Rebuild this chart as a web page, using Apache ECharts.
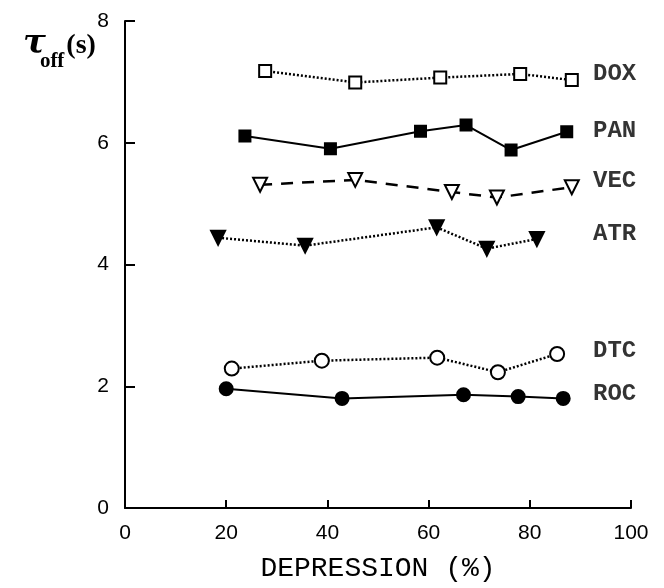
<!DOCTYPE html>
<html>
<head>
<meta charset="utf-8">
<script src="https://cdn.jsdelivr.net/npm/echarts@6/dist/echarts.min.js"></script>
<style>
  html, body { margin: 0; padding: 0; background: #fff; }
  #main { width: 664px; height: 588px; }
</style>
</head>
<body>
<div id="main"></div>
<script>
// depression (%) and tau_off (s) for each drug
const doxX = [27.7, 45.5, 62.3, 78.1, 88.3];
const doxY = [7.18, 6.99, 7.07, 7.13, 7.03];
const panX = [23.7, 40.6, 58.4, 67.4, 76.3, 87.3];
const panY = [6.11, 5.90, 6.19, 6.29, 5.88, 6.18];
const vecX = [26.7, 45.5, 64.6, 73.5, 88.3];
const vecY = [5.31, 5.39, 5.19, 5.10, 5.27];
const atrX = [18.4, 35.6, 61.6, 71.5, 81.4];
const atrY = [4.44, 4.31, 4.61, 4.26, 4.42];
const dtcX = [21.1, 38.9, 61.7, 73.7, 85.4];
const dtcY = [2.29, 2.42, 2.47, 2.23, 2.53];
const rocX = [20.0, 42.9, 66.9, 77.7, 86.6];
const rocY = [1.96, 1.80, 1.86, 1.83, 1.80];

// series name labels at the right
const labelNames = ['DOX', 'PAN', 'VEC', 'ATR', 'DTC', 'ROC'];
const labelX = [92.5, 92.5, 92.5, 92.5, 92.5, 92.5];
const labelY = [7.13, 6.20, 5.37, 4.50, 2.58, 1.88];

const xTicks = [0, 20, 40, 60, 80, 100];
const yTicks = [0, 2, 4, 6, 8];

function zip(xs, ys) {
  return xs.map((x, i) => [x, ys[i]]);
}

function mkLine(name, xs, ys, lineType, symbol, size, filled, rotate) {
  return {
    name: name,
    type: 'line',
    data: zip(xs, ys),
    symbol: symbol,
    symbolSize: size,
    symbolRotate: rotate || 0,
    showAllSymbol: true,
    z: 3,
    lineStyle: { color: '#000', width: lineType === 'solid' ? 2 : 2.5, type: lineType },
    itemStyle: {
      color: filled ? '#000' : '#fff',
      borderColor: '#000',
      borderWidth: 2
    },
    emphasis: { disabled: true },
    animation: false
  };
}

const chart = echarts.init(document.getElementById('main'));
chart.setOption({
  backgroundColor: '#fff',
  animation: false,
  title: {
    text: '{tau|τ}{sub|off}{unit|(s)}',
    left: 18,
    top: 22,
    textStyle: {
      rich: {
        tau: { fontFamily: 'DejaVu Serif', fontStyle: 'italic', fontSize: 34, color: '#000', verticalAlign: 'top' },
        sub: { fontFamily: 'Liberation Serif', fontWeight: 'bold', fontSize: 21, color: '#000', padding: [24, 0, 0, -6] },
        unit: { fontFamily: 'Liberation Serif', fontSize: 28, color: '#000', padding: [0, 0, 8, 2] }
      }
    }
  },
  grid: { left: 125, right: 33, top: 21, bottom: 74, containLabel: false },
  xAxis: {
    type: 'value',
    min: xTicks[0],
    max: xTicks[xTicks.length - 1],
    interval: 20,
    name: 'DEPRESSION (%)',
    nameLocation: 'middle',
    nameGap: 47,
    nameTextStyle: { fontFamily: 'Liberation Mono', fontSize: 28, color: '#000' },
    axisLine: { lineStyle: { color: '#000', width: 2 } },
    axisTick: { inside: true, length: 8, lineStyle: { color: '#000', width: 2 } },
    axisLabel: { fontFamily: 'Liberation Sans', fontSize: 21, color: '#000', margin: 15 },
    splitLine: { show: false }
  },
  yAxis: {
    type: 'value',
    min: yTicks[0],
    max: yTicks[yTicks.length - 1],
    interval: 2,
    axisLine: { show: true, lineStyle: { color: '#000', width: 2 } },
    axisTick: { show: true, inside: true, length: 10, lineStyle: { color: '#000', width: 2 } },
    axisLabel: { fontFamily: 'Liberation Sans', fontSize: 21, color: '#000', margin: 16 },
    splitLine: { show: false }
  },
  series: [
    mkLine('DOX', doxX, doxY, [2, 2], 'rect', 12, false),
    mkLine('PAN', panX, panY, 'solid', 'rect', 11, true),
    mkLine('VEC', vecX, vecY, [12, 9], 'triangle', 14, false, 180),
    mkLine('ATR', atrX, atrY, [2, 2], 'triangle', 14, true, 180),
    mkLine('DTC', dtcX, dtcY, [2, 2], 'circle', 14, false),
    mkLine('ROC', rocX, rocY, 'solid', 'circle', 13, true),
    {
      name: 'labels',
      type: 'scatter',
      symbolSize: 0,
      data: labelNames.map((n, i) => ({ value: [labelX[i], labelY[i]], name: n })),
      label: {
        show: true,
        position: 'right',
        distance: 0,
        formatter: '{b}',
        fontFamily: 'Liberation Mono',
        fontWeight: 'bold',
        fontSize: 24,
        color: '#000'
      },
      emphasis: { disabled: true },
      silent: true
    }
  ]
});
</script>
</body>
</html>
